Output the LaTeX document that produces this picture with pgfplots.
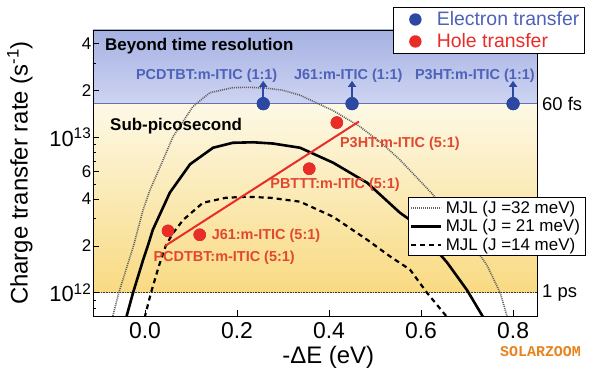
\documentclass[border=0pt]{standalone}
\usepackage{fontspec}
\setmainfont{Liberation Sans}
\setmonofont{Liberation Mono}
\usepackage{pgfplots}
\pgfplotsset{compat=1.18}
\usetikzlibrary{arrows.meta}
\definecolor{eblue}{RGB}{45,72,160}
\definecolor{eblueTxt}{RGB}{78,98,185}
\definecolor{hred}{RGB}{232,45,40}
\definecolor{hredTxt}{RGB}{226,72,48}
\definecolor{bgblueTop}{RGB}{165,177,226}
\definecolor{bgblueBot}{RGB}{206,212,242}
\definecolor{yelTop}{RGB}{253,249,230}
\definecolor{yelBot}{RGB}{249,218,130}
\definecolor{lineblue}{RGB}{100,115,175}
\definecolor{wmorange}{RGB}{232,130,30}
\newcommand{\fs}[1]{\fontsize{#1}{#1}\selectfont}

\pgfplotstableread{
x y
-0.041 6.9e11
-0.026 1.00e12
-0.004 1.63e12
0.007 2.04e12
0.017 2.54e12
0.054 4.40e12
0.098 6.70e12
0.148 8.55e12
0.191 9.20e12
0.235 9.27e12
0.278 9.10e12
0.337 8.55e12
0.409 6.85e12
0.483 5.09e12
0.554 3.27e12
0.576 2.94e12
0.620 2.09e12
0.657 1.56e12
0.700 1.04e12
0.736 6.9e11
}\jtwentyone

\pgfplotstableread{
x y
-0.071 6.9e11
-0.057 1.00e12
-0.025 2.00e12
-0.004 3.42e12
0.011 4.59e12
0.033 6.46e12
0.061 1.007e13
0.104 1.57e13
0.141 1.93e13
0.191 2.08e13
0.225 2.09e13
0.260 2.07e13
0.300 2.00e13
0.337 1.86e13
0.409 1.48e13
0.467 1.17e13
0.517 9.0e12
0.554 7.16e12
0.626 4.27e12
0.690 2.51e12
0.743 1.51e12
0.772 1.00e12
0.788 6.9e11
}\jthirtytwo

\pgfplotstableread{
x y
-0.001 6.9e11
0.013 1.00e12
0.030 1.48e12
0.045 2.00e12
0.060 2.40e12
0.083 2.94e12
0.126 3.79e12
0.176 4.08e12
0.220 4.14e12
0.272 4.08e12
0.337 3.85e12
0.409 3.08e12
0.483 2.19e12
0.533 1.71e12
0.576 1.41e12
0.613 1.00e12
0.658 6.9e11
}\jfourteen

\begin{document}
\begin{tikzpicture}
\useasboundingbox (-93bp,-63bp) rectangle (507bp,316bp);
\begin{axis}[
  at={(0,0)}, anchor=south west,
  scale only axis, width=444bp, height=286bp,
  xmin=-0.113, xmax=0.852,
  ymode=log, ymin=7.1e11, ymax=4.88e13,
  axis on top,
  axis line style={black, line width=0.8bp},
  tick align=inside, xtick pos=bottom, ytick pos=left,
  major tick length=6bp, minor tick length=3.5bp,
  tick style={black, line width=0.7bp},
  xtick={0,0.2,0.4,0.6,0.8},
  xticklabels={0.0,0.2,0.4,0.6,0.8},
  xticklabel style={font=\fs{23}, yshift=-3bp},
  ytick={1e12,2e12,4e12,6e12,1e13,2e13,4e13},
  yticklabels={{\fs{22}10\textsuperscript{12}\hspace{7bp}},2,4,6,{\fs{22}10\textsuperscript{13}\hspace{7bp}},2,4},
  yticklabel style={font=\fs{17}, inner xsep=1.5bp},
  minor ytick={8e11,9e11,3e12,5e12,7e12,8e12,9e12,3e13},
  xlabel={-ΔE (eV)},
  ylabel={Charge transfer rate (s\textsuperscript{-1})},
  label style={font=\fs{24}},
  xlabel style={at={(axis description cs:0.53,-0.145)}, anchor=center},
  ylabel style={at={(axis description cs:-0.165,0.5)}, anchor=center},
  legend style={at={(0.709,0.416)}, anchor=north west, draw=black, line width=0.8bp, fill=white, font=\fs{17}, inner xsep=2bp, inner ysep=1bp, row sep=0bp, nodes={inner ysep=2.5bp, inner xsep=3bp}},
  legend cell align=left,
  legend image code/.code={\draw[#1] (0bp,0bp) -- (30bp,0bp);},
]
\path[top color=bgblueTop, bottom color=bgblueBot] (axis cs:-0.113,1.64e13) rectangle (axis cs:0.852,4.88e13);
\path[top color=yelTop, bottom color=yelBot] (axis cs:-0.113,1e12) rectangle (axis cs:0.852,1.64e13);
\addplot[forget plot, color=lineblue, line width=1bp] coordinates {(-0.113,1.64e13) (0.852,1.64e13)};
\addplot[forget plot, black!80, line width=1.2bp, dash pattern=on 0.8bp off 0.8bp] coordinates {(-0.113,1e12) (0.852,1e12)};
\addplot[color=black!62, line width=1.6bp, dash pattern=on 1bp off 1bp] table {\jthirtytwo};
\addlegendentry{MJL (J =32 meV)}
\addplot[black, line width=2.6bp] table {\jtwentyone};
\addlegendentry{MJL (J = 21 meV)}
\addplot[black, line width=2.2bp, dash pattern=on 5bp off 4bp] table {\jfourteen};
\addlegendentry{MJL (J =14 meV)}
\end{axis}
\begin{axis}[
  at={(0,0)}, anchor=south west,
  scale only axis, width=444bp, height=286bp,
  xmin=-0.113, xmax=0.852,
  ymode=log, ymin=7.1e11, ymax=4.88e13,
  axis line style={draw=none}, ticks=none, clip=false,
  legend style={at={(0.676,1.08)}, anchor=north west, draw=black, line width=0.8bp, fill=white, font=\fs{19.5}, inner xsep=2bp, inner ysep=1bp, row sep=0bp, nodes={inner ysep=3.2bp, inner xsep=3bp}},
  legend cell align=left,
  legend image code/.code={\path[draw=none, fill=none] (-0.35cm,0cm) -- (1cm,0cm); \fill[#1, draw=none] (0.35cm,0cm) circle[radius=6.2bp];},
]
\addplot[only marks, mark=*, mark size=6.3bp, color=eblue] coordinates {(0.257,1.64e13) (0.45,1.64e13) (0.80,1.64e13)};
\addlegendentry{\textcolor{eblueTxt}{Electron transfer}}
\addplot[only marks, mark=*, mark size=6bp, color=hred] coordinates {(0.05,2.5e12) (0.119,2.36e12) (0.357,6.27e12) (0.417,1.24e13)};
\addlegendentry{\textcolor{hred}{Hole transfer}}
\addplot[forget plot, eblue, line width=2.4bp, -{Triangle[width=8bp,length=6bp]}] coordinates {(0.257,1.64e13) (0.257,2.3e13)};
\addplot[forget plot, eblue, line width=2.4bp, -{Triangle[width=8bp,length=6bp]}] coordinates {(0.45,1.64e13) (0.45,2.3e13)};
\addplot[forget plot, eblue, line width=2.4bp, -{Triangle[width=8bp,length=6bp]}] coordinates {(0.80,1.64e13) (0.80,2.3e13)};
\addplot[forget plot, hred, line width=2bp] coordinates {(0.0435,2.0e12) (0.465,1.26e13)};
\addplot[forget plot, only marks, mark=*, mark size=6.3bp, color=eblue] coordinates {(0.257,1.64e13) (0.45,1.64e13) (0.80,1.64e13)};
\addplot[forget plot, only marks, mark=*, mark size=6bp, color=hred] coordinates {(0.05,2.5e12) (0.119,2.36e12) (0.357,6.27e12) (0.417,1.24e13)};

\node[anchor=west, font=\bfseries\fs{17}, inner sep=0pt] at (axis cs:-0.087,3.87e13) {Beyond time resolution};
\node[anchor=west, font=\bfseries\fs{17}, inner sep=0pt] at (axis cs:-0.076,1.17e13) {Sub-picosecond};
\node[font=\bfseries\fs{14.5}, text=eblueTxt, inner sep=0pt] at (axis cs:0.134,2.48e13) {PCDTBT:m-ITIC (1:1)};
\node[font=\bfseries\fs{14.5}, text=eblueTxt, inner sep=0pt] at (axis cs:0.442,2.48e13) {J61:m-ITIC (1:1)};
\node[font=\bfseries\fs{14.5}, text=eblueTxt, inner sep=0pt] at (axis cs:0.717,2.48e13) {P3HT:m-ITIC (1:1)};
\node[font=\bfseries\fs{14.5}, text=hredTxt, inner sep=0pt] at (axis cs:0.554,9.08e12) {P3HT:m-ITIC (5:1)};
\node[font=\bfseries\fs{14.5}, text=hredTxt, inner sep=0pt] at (axis cs:0.413,4.96e12) {PBTTT:m-ITIC (5:1)};
\node[font=\bfseries\fs{14.5}, text=hredTxt, inner sep=0pt] at (axis cs:0.263,2.33e12) {J61:m-ITIC (5:1)};
\node[font=\bfseries\fs{14.5}, text=hredTxt, inner sep=0pt] at (axis cs:0.172,1.69e12) {PCDTBT:m-ITIC (5:1)};
\node[anchor=west, font=\fs{18.5}, inner sep=0pt, xshift=5bp] at (axis cs:0.852,1.64e13) {60 fs};
\node[anchor=west, font=\fs{18.5}, inner sep=0pt, xshift=5bp] at (axis cs:0.852,1e12) {1 ps};
\node[font=\ttfamily\bfseries\fs{15}, text=wmorange, inner sep=0pt] at (rel axis cs:1.008,-0.125) {SOLARZOOM};
\end{axis}
\end{tikzpicture}
\end{document}
